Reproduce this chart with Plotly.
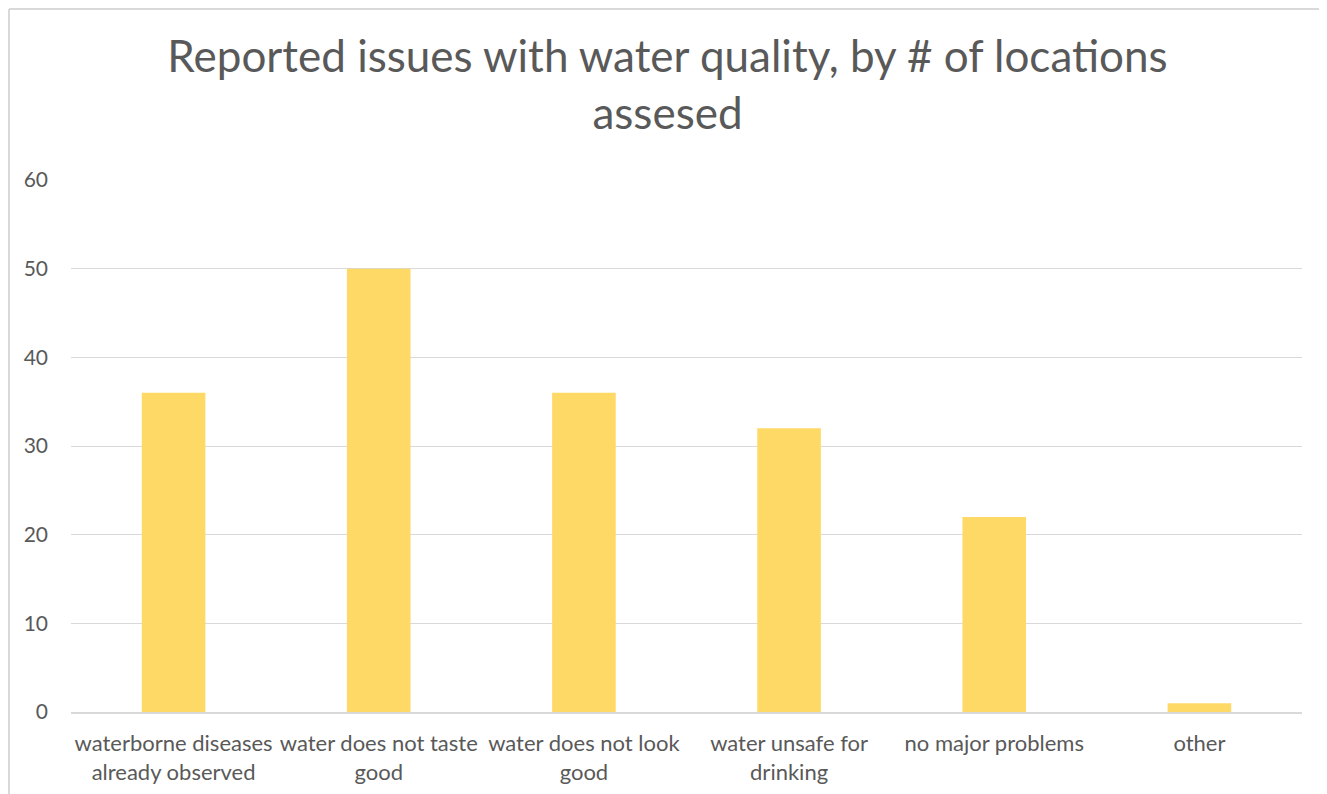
import plotly.graph_objects as go

categories = [
    "waterborne diseases<br>already observed",
    "water does not taste<br>good",
    "water does not look<br>good",
    "water unsafe for<br>drinking",
    "no major problems",
    "other",
]
values = [36, 50, 36, 32, 22, 1]
y_ticks = [0, 10, 20, 30, 40, 50, 60]

# page has an 8px body margin, so the figure is a bit smaller than the window
W, H = 1319, 786
L, R, T, B = 63, 25, 172, 82
pw, ph = W - L - R, H - T - B

fig = go.Figure(go.Bar(
    x=categories, y=values,
    marker=dict(color="#FFD966", line=dict(width=0)),
    width=0.31,
))

font = "Lato, 'Open Sans', sans-serif"
fig.update_layout(
    width=W, height=H,
    margin=dict(l=L, r=R, t=T, b=B, autoexpand=False),
    paper_bgcolor="white", plot_bgcolor="white",
    title=dict(
        text="Reported issues with water quality, by # of locations<br>assesed",
        x=0.5, xanchor="center", xref="container",
        y=1 - 64 / H, yanchor="top",
        font=dict(family=font, size=44, color="#595959"),
    ),
    font=dict(family=font, color="#595959", size=22),
    showlegend=False,
    xaxis=dict(showgrid=False, showline=True, linecolor="#D9D9D9", linewidth=1.5,
               automargin=False,
               ticks="", ticklabelstandoff=11, tickfont=dict(size=22, color="#595959")),
    yaxis=dict(range=[0, 60], tickvals=y_ticks, showgrid=True, gridcolor="#D9D9D9",
               gridwidth=1, zeroline=False, ticks="", ticklabelstandoff=22,
               automargin=False,
               tickfont=dict(size=21, color="#595959")),
)

# chart border (top and left edges visible in reference)
x0 = (1 - L) / pw
y0 = 1 + (T - 1) / ph
fig.add_shape(type="line", xref="paper", yref="paper", x0=x0, x1=(W - L) / pw, y0=y0, y1=y0,
              line=dict(color="#D9D9D9", width=2))
fig.add_shape(type="line", xref="paper", yref="paper", x0=x0, x1=x0, y0=y0, y1=-B / ph - 0.01,
              line=dict(color="#D9D9D9", width=2))

fig.write_html("out.html")
